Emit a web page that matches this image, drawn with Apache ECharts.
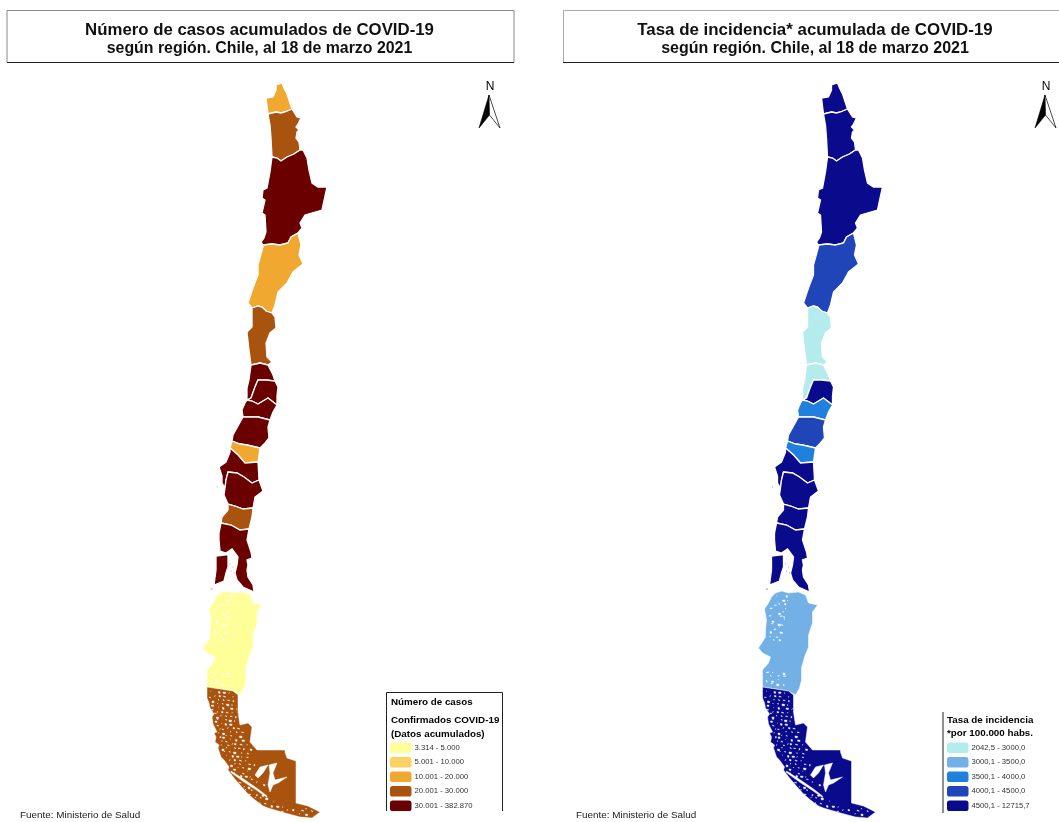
<!DOCTYPE html>
<html><head><meta charset="utf-8">
<script src="https://cdn.jsdelivr.net/npm/echarts@6/dist/echarts.min.js"></script>
<style>html,body{margin:0;padding:0;background:#fff}#c{width:1059px;height:822px}</style></head>
<body><div id="c"></div>
<script>
// ---------- data ----------
const regiones = ['Arica y Parinacota','Tarapacá','Antofagasta','Atacama','Coquimbo','Valparaíso','Metropolitana',"O'Higgins",'Maule','Ñuble','Biobío','La Araucanía','Los Ríos','Los Lagos','Aysén','Magallanes'];
const casos = [15200,25600,33400,13900,26800,64000,382870,41000,52000,18500,74000,46000,22000,52000,3314,24800];
const tasa = [5400,7300,5600,4300,2042.5,2950,5000,3900,4400,3800,5600,5000,5300,6000,3300,12715.7];
const clasesCasos = ['3.314 - 5.000','5.001 - 10.000','10.001 - 20.000','20.001 - 30.000','30.001 - 382.870'];
const limitesCasos = [3314,5000,10000,20000,30000,382870];
const coloresCasos = ['#FFFF99','#FBD162','#F0A830','#A8540F','#6B0000'];
const clasesTasa = ['2042,5 - 3000,0','3000,1 - 3500,0','3500,1 - 4000,0','4000,1 - 4500,0','4500,1 - 12715,7'];
const limitesTasa = [2042.5,3000,3500,4000,4500,12715.7];
const coloresTasa = ['#B4ECEE','#73B0E6','#1F80DE','#1F45B8','#0A0A8C'];
// ---------- map outlines (map units; shared borders kept once) ----------
const b1=[[268,114],[276,112],[281,113],[285,112],[292,109]];
const b2=[[272,157],[277,158],[281,161],[287,157],[294,154],[300,150]];
const b3=[[298,233],[291,237],[288,243],[280,245],[272,244],[263,245]];
const b4=[[272,313],[266,311],[262,307],[258,306],[252,308]];
const b5=[[268,365],[260,363],[256,364],[251,365]];
const b6=[[275,381],[266,380],[258,380],[255,387],[251,398],[247,400]];
const b7=[[277,405],[268,398],[263,401],[258,404],[252,401],[247,400]];
const b8=[[270,420],[258,417],[250,417],[243,417]];
const b9=[[260,448],[247,445],[240,444],[232,441]];
const b10=[[258,462],[245,463],[238,455],[230,448]];
const b11=[[259,480],[252,483],[244,477],[237,473],[228,472],[226,480],[225,488]];
const b12=[[253,508],[243,509],[235,506],[228,504]];
const b13=[[249,529],[240,530],[231,525],[221,523]];
const aricaN=[[268,114],[267,106],[266,98],[273,97],[276,90],[276,85],[282,83],[284,88],[287,94],[289,100],[292,109]];
const tarE=[[292,109],[297,117],[301,118],[298,124],[296,127],[299,130],[297,132],[296,138],[299,142],[300,150]];
const tarW=[[272,157],[271,138],[270,125],[268,114]];
const antE=[[300,150],[303,150],[307,158],[309,170],[312,183],[318,187],[327,187],[325,196],[322,210],[305,215],[300,223],[302,228],[298,233]];
const antW=[[263,245],[261,242],[264,238],[266,232],[265,215],[262,213],[265,200],[262,198],[263,190],[267,188],[270,172],[272,157]];
const ataE=[[298,233],[301,245],[299,255],[303,264],[298,268],[293,272],[287,283],[278,292],[275,305],[272,313]];
const ataW=[[252,308],[248,303],[253,288],[258,275],[258,265],[263,247],[263,245]];
const coqE=[[272,313],[275,317],[276,328],[270,333],[266,343],[267,357],[272,362],[268,365]];
const coqW=[[251,365],[249,350],[247,332],[252,327],[252,317],[252,308]];
const valE=[[268,365],[273,375],[275,381]];
const valW=[[247,400],[247,388],[249,380],[251,365]];
const rmE=[[275,381],[278,387],[277,396],[277,405]];
const ohE=[[277,405],[273,412],[270,420]];
const ohW=[[243,417],[242,410],[245,403],[247,400]];
const mauE=[[270,420],[268,427],[269,438],[265,443],[260,448]];
const mauW=[[232,441],[233,435],[238,426],[243,417]];
const nubE=[[260,448],[258,462]];
const nubW=[[230,448],[232,441]];
const bioE=[[258,462],[259,480]];
const bioW=[[225,488],[222,483],[222,476],[219,467],[226,462],[230,452],[230,448]];
const arauE=[[259,480],[263,491],[255,497],[253,508]];
const arauW=[[228,504],[224,495],[225,488]];
const lrE=[[253,508],[252,517],[249,529]];
const lrW=[[221,523],[222,517],[228,510],[228,504]];
const llMain=[[249,529],[247,540],[251,552],[252,558],[247,560],[248,565],[247,570],[248,577],[253,585],[254,592],[243,587],[237,580],[235,573],[237,565],[238,557],[232,549],[226,553],[220,551],[219,540],[219,533],[221,523]];
const chiloe=[[216,556],[228,554.5],[228,567],[226,573],[224,581],[214,585],[216,570]];
const aysE=[[233,691],[240,695],[244,688],[246,680],[246,668],[249,657],[253,647],[253,635],[257,623],[257,612],[262,605],[253,603],[250,595],[243,592],[233,593],[226,591],[220,593],[216,597],[213,603],[209,609],[211,620],[210,630],[210,637],[203,648],[207,653],[215,657],[213,663],[207,670],[207,680],[207,687]];
const magE=[[233,691],[238,695],[238,712],[240,725],[248,723],[252,727],[250,742],[257,750],[285,750],[285,752],[287,758],[296,761],[296,803],[308,806],[320,812],[312,818],[300,817],[285,813],[268,808],[263,806],[255,800],[248,794],[240,785],[234,778],[228,770],[229,767],[224,760],[221,757],[218,748],[219,745],[215,742],[216,737],[214,733],[217,732],[213,724],[212,717],[214,714],[210,708],[209,703],[207,698],[207,687]];
const islasVal=[[[98,260],[100,260],[100,261],[98,261]],[[100,406],[103,406],[103,407.5],[100,407.5]],[[130,400.5],[133,400.5],[133,402],[130,402]]];
const islasSur=[[[216,486],[218,486],[218,488],[216,488]],[[210,588],[213,588],[213,590],[210,590]]];
const islasLagos=[[[229,563],[231,563],[231,565],[229,565]],[[232,566],[234,566],[234,568],[232,568]],[[230,570],[232,570],[232,572],[230,572]],[[233,572],[235,572],[235,574],[233,574]]];
const motasAysen=[[222,596],[229,596],[226,600],[231,600],[219,604],[224,604],[230,604],[216,608],[228,608],[222,612],[227,612],[214,616],[225,616],[229,616],[218,620],[227,620],[215,624],[222,624],[226,624],[219,628],[225,628],[216,632],[223,632],[213,636],[220,636],[218,640],[224,640],[212,672],[218,672],[226,672],[214,676],[222,676],[228,676],[211,680],[217,680],[224,680],[214,684],[220,684],[227,684]];
const huecosMagallanes=[[[255,775],[260,767],[268,765],[263,773],[258,778]],[[268,785],[270,773],[269,765],[277,763],[273,773],[275,780],[287,777],[278,783],[273,785],[270,792]],[[231,771],[245,780],[258,789],[267,796],[267,797.5],[257,790.5],[244,782],[231,772.5]]];
const motasMagallanes=[[212,692],[217,692],[222,692],[228,692],[209,696],[215,696],[220,696],[225,696],[231,696],[211,700],[218,700],[223,700],[228,700],[234,700],[213,704],[216,704],[221,704],[226,704],[232,704],[212,708],[219,708],[224,708],[229,708],[235,708],[214,712],[217,712],[222,712],[227,712],[233,712],[215,716],[220,716],[225,716],[230,716],[236,716],[216,720],[219,720],[224,720],[228,720],[234,720],[217,724],[222,724],[226,724],[231,724],[218,728],[221,728],[227,728],[233,728],[238,728],[219,732],[224,732],[229,732],[235,732],[241,732],[220,736],[223,736],[227,736],[232,736],[238,736],[221,740],[225,740],[230,740],[236,740],[243,740],[222,744],[226,744],[231,744],[234,744],[240,744],[247,744],[223,748],[228,748],[233,748],[237,748],[243,748],[250,748],[225,752],[230,752],[235,752],[240,752],[246,752],[226,756],[232,756],[237,756],[242,756],[248,756],[228,760],[233,760],[239,760],[245,760],[231,764],[236,764],[241,764],[247,764],[253,764],[233,768],[238,768],[243,768],[249,768],[236,772],[241,772],[246,772],[240,776],[245,776],[250,776],[252,778],[258,782],[262,785],[238,782],[243,786],[248,786],[246,790],[252,790],[250,794],[255,794],[261,794],[255,798],[260,798],[266,798],[261,802],[266,802],[272,802],[270,806],[276,806],[282,806],[282,810],[288,810],[294,810],[300,810],[298,813],[305,813],[306,809],[312,811]];
// ---------- build the GeoJSON ----------
const rev=a=>a.slice().reverse();
const ring=(...p)=>p.flat();
const area=r=>r.reduce((s,p,i)=>{const q=r[(i+1)%r.length];return s+p[0]*q[1]-q[0]*p[1]},0);
function poly(outer,holes){
  const toGeo=r=>{const c=r.map(p=>[p[0],-p[1]]);c.push(c[0]);return c};
  const s=Math.sign(area(outer));
  return [toGeo(outer)].concat((holes||[]).map(h=>toGeo(Math.sign(area(h))===s?rev(h):h)));
}
const mota=(p,i)=>{const x=p[0]+((i*13)%7-3)*.5,y=p[1]+((i*11)%5-2)*.5,w=.6+((i*7)%5)*.5,h=.5+((i*3)%4)*.45;
  return [[x,y],[x+w,y+h*.2],[x+w*.9,y+h],[x+w*.1,y+h*.9]]};
const formas=[
 [poly(ring(aricaN,rev(b1)))],
 [poly(ring(b1,tarE,rev(b2),tarW))],
 [poly(ring(b2,antE,b3,antW))],
 [poly(ring(rev(b3),ataE,b4,ataW))],
 [poly(ring(rev(b4),coqE,b5,coqW))],
 [poly(ring(rev(b5),valE,b6,valW))].concat(islasVal.map(i=>poly(i))),
 [poly(ring(rev(b6),rmE,b7))],
 [poly(ring(rev(b7),ohE,b8,ohW))],
 [poly(ring(rev(b8),mauE,b9,mauW))],
 [poly(ring(rev(b9),nubE,b10,nubW))],
 [poly(ring(rev(b10),bioE,b11,bioW))],
 [poly(ring(rev(b11),arauE,b12,arauW)),poly(islasSur[0])],
 [poly(ring(rev(b12),lrE,b13,lrW))],
 [poly(ring(rev(b13),llMain)),poly(chiloe),poly(islasSur[1])].concat(islasLagos.map(i=>poly(i))),
 [poly(aysE,motasAysen.map(mota))],
 [poly(magE,huecosMagallanes.concat(motasMagallanes.map(mota)))]
];
const geo={type:'FeatureCollection',features:regiones.map((n,i)=>({type:'Feature',properties:{name:n},geometry:{type:'MultiPolygon',coordinates:formas[i]}}))};
echarts.registerMap('chileCasos',geo);
echarts.registerMap('chileTasa',JSON.parse(JSON.stringify(geo)));
const conFiordos=new Set(['Aysén','Magallanes']);
const mapa=(nombre,vals,cx)=>({type:'map',map:nombre,aspectScale:1,boundingCoords:[[0,0],[1059,-822]],layoutCenter:[cx,411],layoutSize:1059,roam:false,silent:true,selectedMode:false,
  label:{show:false},emphasis:{disabled:true},select:{disabled:true},
  itemStyle:{borderColor:'#fff',borderWidth:1.3},
  data:regiones.map((n,i)=>({name:n,value:vals[i],itemStyle:conFiordos.has(n)?{borderWidth:.5}:undefined}))});
const piezas=(lim,lab,col)=>lab.map((l,i)=>({min:lim[i],max:lim[i+1],label:l,color:col[i]}));
const vm=(idx,left,lim,lab,col)=>({type:'piecewise',seriesIndex:idx,left:left,top:742.5,orient:'vertical',inverse:true,align:'left',itemWidth:21.5,itemHeight:10.5,itemGap:4,textGap:3,padding:0,hoverLink:false,selectedMode:false,pieces:piezas(lim,lab,col),textStyle:{fontFamily:'Liberation Sans',fontSize:7.7,color:'#333'}});
const txt=(x,y,t,o)=>({type:'text',silent:true,x:x,y:y,style:Object.assign({text:t,fontFamily:'Liberation Sans',fill:'#000',verticalAlign:'middle'},o||{})});
const line=(pts,c,w)=>({type:'polyline',silent:true,shape:{points:pts},style:{stroke:c,lineWidth:w||1,fill:null}});
const norte=dx=>[
 txt(490+dx,87,'N',{fontSize:12,align:'center'}),
 {type:'polygon',silent:true,shape:{points:[[489+dx,95],[479+dx,128],[489.5+dx,115]]},style:{fill:'#000',stroke:'#000',lineWidth:.6}},
 {type:'polygon',silent:true,shape:{points:[[489+dx,95],[500+dx,128],[489.5+dx,115]]},style:{fill:'#fff',stroke:'#000',lineWidth:.7}}
];
const bold={fontSize:9.8,fontWeight:'bold'};
const tituloEst=(a,b)=>({fontFamily:'Liberation Sans',fontWeight:'bold',color:'#111',rich:{a:{fontFamily:'Liberation Sans',fontWeight:'bold',color:'#111',fontSize:a,lineHeight:18.5},b:{fontFamily:'Liberation Sans',fontWeight:'bold',color:'#111',fontSize:b,lineHeight:18.5}}});
const chart=echarts.init(document.getElementById('c'),null,{renderer:'canvas'});
chart.setOption({
 animation:false,backgroundColor:'#fff',
 title:[
  {text:'{a|Número de casos acumulados de COVID-19}\n{b|según región. Chile, al 18 de marzo 2021}',left:259.5,top:21,textAlign:'center',padding:0,textStyle:tituloEst(16.8,15.9)},
  {text:'{a|Tasa de incidencia* acumulada de COVID-19}\n{b|según región. Chile, al 18 de marzo 2021}',left:815,top:21,textAlign:'center',padding:0,textStyle:tituloEst(16.9,16)}
 ],
 visualMap:[vm(0,390,limitesCasos,clasesCasos,coloresCasos),vm(1,947,limitesTasa,clasesTasa,coloresTasa)],
 series:[mapa('chileCasos',casos,529.5),mapa('chileTasa',tasa,529.5+555.5)],
 graphic:{elements:[
  line([[7,62.5],[7,10.5],[514,10.5],[514,62.5]],'#888'),line([[7,62.5],[514,62.5]],'#222'),
  line([[563.5,62.5],[563.5,10.5],[1059,10.5]],'#aaa'),line([[563,62.5],[1059,62.5]],'#222'),
  line([[386.5,811],[386.5,692.5],[502.5,692.5],[502.5,811]],'#222'),
  line([[943,712],[943,813]],'#222'),
  txt(391,702,'Número de casos',bold),txt(391,720,'Confirmados COVID-19',bold),txt(391,734,'(Datos acumulados)',bold),
  txt(947,720,'Tasa de incidencia',bold),txt(947,733,'*por 100.000 habs.',bold),
  txt(20,815,'Fuente: Ministerio de Salud',{fontSize:9.9,fill:'#222'}),
  txt(576,815,'Fuente: Ministerio de Salud',{fontSize:9.9,fill:'#222'})
 ].concat(norte(0),norte(556))}
});
</script></body></html>
